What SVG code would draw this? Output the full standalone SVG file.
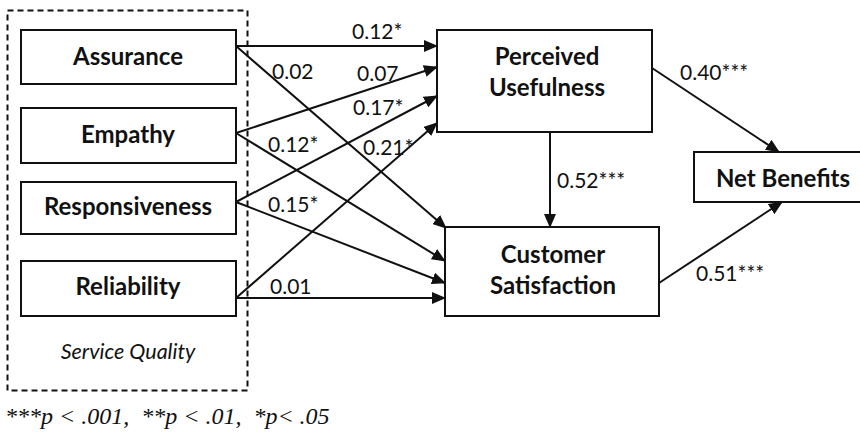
<svg xmlns="http://www.w3.org/2000/svg" width="860" height="435" viewBox="0 0 860 435">
<style>
.box{fill:#fff;stroke:#111;stroke-width:2}
.nt{font-family:Lato,"Open Sans",sans-serif;font-weight:bold;font-size:24px;fill:#111;text-anchor:middle}
.el{font-family:Lato,"Open Sans",sans-serif;font-size:21px;fill:#111}
.ln{stroke:#111;stroke-width:2;fill:none;marker-end:url(#ah)}
</style>
<defs>
<marker id="ah" viewBox="0 0 14 12" refX="13" refY="6" markerWidth="14" markerHeight="12" markerUnits="userSpaceOnUse" orient="auto">
<path d="M0,0 L14,6 L0,12 Z" fill="#111"/>
</marker>
</defs>
<rect x="0" y="0" width="860" height="435" fill="#fff"/>
<g id="service-quality">
<rect x="7.5" y="10.5" width="240" height="380" fill="none" stroke="#111" stroke-width="2" stroke-dasharray="6,4"/>
<text x="128" y="359" style="font-family:Lato,'Open Sans',sans-serif;font-style:italic;font-size:21.5px;fill:#111;text-anchor:middle">Service Quality</text>
</g>
<g id="connectors">
<line class="ln" x1="236" y1="46" x2="437" y2="46"/>
<line class="ln" x1="236" y1="46" x2="446" y2="228"/>
<line class="ln" x1="236" y1="133" x2="437" y2="67"/>
<line class="ln" x1="236" y1="133" x2="445" y2="261"/>
<line class="ln" x1="236" y1="202" x2="437" y2="96"/>
<line class="ln" x1="236" y1="202" x2="445" y2="283"/>
<line class="ln" x1="236" y1="298" x2="437" y2="123"/>
<line class="ln" x1="236" y1="298" x2="445" y2="298"/>
<line class="ln" x1="550" y1="132" x2="550" y2="227"/>
<line class="ln" x1="652" y1="68" x2="779" y2="152"/>
<line class="ln" x1="659" y1="283" x2="782" y2="202"/>
<text class="el" x="352" y="39">0.12*</text>
<text class="el" x="272" y="79">0.02</text>
<text class="el" x="357" y="81">0.07</text>
<text class="el" x="353" y="115">0.17*</text>
<text class="el" x="268" y="152">0.12*</text>
<text class="el" x="363" y="155">0.21*</text>
<text class="el" x="268" y="212">0.15*</text>
<text class="el" x="270" y="294">0.01</text>
<text class="el" x="557" y="188">0.52***</text>
<text class="el" x="680" y="80">0.40***</text>
<text class="el" x="696" y="281">0.51***</text>
</g>
<g id="assurance">
<rect class="box" x="21" y="30" width="215" height="54"/>
<text class="nt" x="128" y="65">Assurance</text>
</g>
<g id="empathy">
<rect class="box" x="21" y="108" width="215" height="55"/>
<text class="nt" x="128" y="143">Empathy</text>
</g>
<g id="responsiveness">
<rect class="box" x="21" y="182" width="215" height="52"/>
<text class="nt" x="128" y="215">Responsiveness</text>
</g>
<g id="reliability">
<rect class="box" x="21" y="261" width="215" height="55"/>
<text class="nt" x="128" y="295">Reliability</text>
</g>
<g id="perceived-usefulness">
<rect class="box" x="437" y="30" width="215" height="102"/>
<text class="nt" x="547" y="65">Perceived</text>
<text class="nt" x="547" y="96">Usefulness</text>
</g>
<g id="customer-satisfaction">
<rect class="box" x="445" y="227" width="214" height="89"/>
<text class="nt" x="553" y="263">Customer</text>
<text class="nt" x="553" y="294">Satisfaction</text>
</g>
<g id="net-benefits">
<rect class="box" x="694" y="152" width="180" height="50"/>
<text class="nt" x="783" y="187">Net Benefits</text>
</g>
<text x="5" y="424" xml:space="preserve" style="font-family:'Liberation Serif',serif;font-style:italic;font-size:24px;fill:#111">***p &lt; .001,  **p &lt; .01,  *p&lt; .05</text>
</svg>
